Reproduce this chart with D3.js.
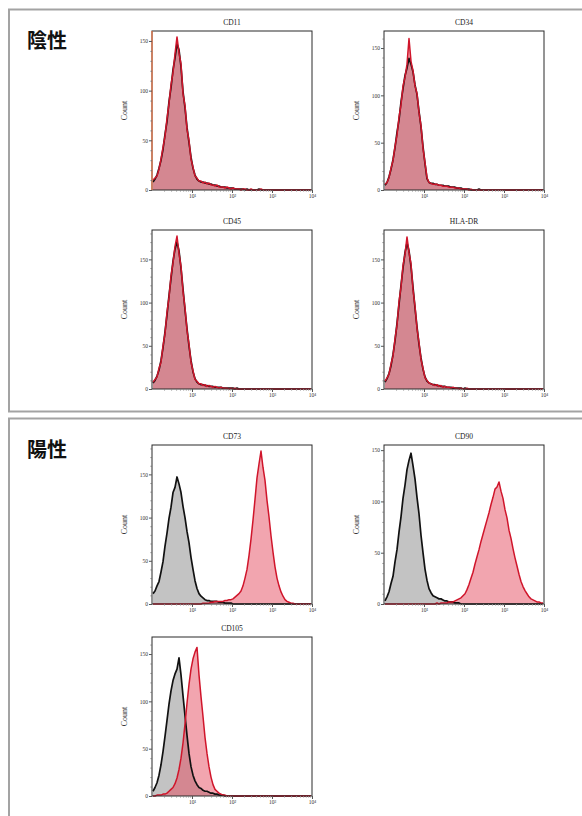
<!DOCTYPE html>
<html><head><meta charset="utf-8">
<script src="https://cdn.jsdelivr.net/npm/d3@7"></script>
<style>body{margin:0;background:#fff}svg{display:block}</style>
</head><body><svg id="c" width="582" height="816"></svg>
<script>
// ---------------- data ----------------
const panelNames = ["CD11","CD34","CD45","HLA-DR","CD73","CD90","CD105"];
const sectionLabels = ["陰性","陽性"];
const yMax = [160,168,184,184,184,155,168];
const yTickValues = [0,50,100,150];
const xTickValues = [10,100,1000,10000];
const xTickLabels = ["10¹","10²","10³","10⁴"];
const binWidthDecades = 0.05; // histogram channels, 80 per 4 decades

const cd11Control = [8,11,15,22,30,41,56,69,89,103,121,133,147,141,124,99,83,63,48,33,22,15,11,9,8,8,7,7,6,6,5,5,4,4,3,3,3,2,2,2,2,1,1,1,1,1,0,1,0,0,0,0,0,1,0,0,0,0,0,0,0,0,0,0,0,0,0,0,0,0,0,0,0,0,0,0,0,0,0,0];
const cd11Stained = [10,12,14,21,31,43,54,72,87,106,118,137,154,138,127,97,85,61,50,31,23,14,12,9,9,7,8,6,7,5,5,4,5,3,3,3,2,3,2,1,2,1,1,1,0,1,1,0,0,1,0,0,0,0,1,0,0,0,0,0,0,0,0,0,0,0,0,0,0,0,0,0,0,0,0,0,0,0,0,0];
const cd34Control = [5,8,14,22,32,45,61,74,93,107,121,129,139,133,125,111,101,83,67,46,28,12,8,7,7,6,6,5,5,5,4,4,4,3,3,3,2,2,2,1,1,1,1,0,0,0,0,1,0,0,0,0,0,0,0,0,0,0,0,0,0,0,0,0,0,0,0,0,0,0,0,0,0,0,0,0,0,0,0,0];
const cd34Stained = [6,8,13,23,31,46,58,77,90,110,119,133,160,136,126,110,102,82,68,44,29,13,8,7,6,6,6,5,5,4,4,4,3,3,3,2,2,2,1,1,1,1,0,1,0,0,0,0,0,0,0,0,0,0,0,0,0,0,0,0,0,0,0,0,0,0,0,0,0,0,0,0,0,0,0,0,0,0,0,0];
const cd45Control = [7,10,15,22,33,48,66,86,108,128,148,162,170,160,140,116,92,70,50,33,20,12,8,6,5,5,4,4,3,3,3,2,2,2,2,1,1,1,1,1,1,0,1,0,0,0,0,0,0,0,0,0,0,0,0,0,0,0,0,0,0,0,0,0,0,0,0,0,0,0,0,0,0,0,0,0,0,0,0,0];
const cd45Stained = [8,11,14,24,31,50,64,89,106,131,146,165,177,157,142,113,94,68,52,31,21,11,9,6,6,4,5,3,4,3,2,3,2,1,2,1,1,1,0,1,0,1,0,0,0,0,0,0,0,0,0,0,0,0,0,0,0,0,0,0,0,0,0,0,0,0,0,0,0,0,0,0,0,0,0,0,0,0,0,0];
const hladrControl = [8,12,18,27,40,56,76,98,120,140,158,169,160,142,118,94,72,52,36,23,14,9,7,6,5,5,4,4,3,3,3,2,2,2,1,1,1,1,1,0,1,0,0,0,0,0,0,0,0,0,0,0,0,0,0,0,0,0,0,0,0,0,0,0,0,0,0,0,0,0,0,0,0,0,0,0,0,0,0,0];
const hladrStained = [9,13,17,29,38,58,74,101,118,143,156,176,158,145,115,96,70,54,34,24,13,10,7,6,5,4,5,3,4,2,3,2,2,1,2,1,1,0,1,0,0,1,0,0,0,0,0,0,0,0,0,0,0,0,0,0,0,0,0,0,0,0,0,0,0,0,0,0,0,0,0,0,0,0,0,0,0,0,0,0];
const cd73Control = [12,15,21,26,37,49,67,82,99,112,129,135,147,139,129,113,100,84,71,54,40,27,18,12,9,7,5,4,4,3,3,3,3,2,2,2,1,1,1,1,0,0,0,0,0,0,0,0,0,0,0,0,0,0,0,0,0,0,0,0,0,0,0,0,0,0,0,0,0,0,0,0,0,0,0,0,0,0,0,0];
const cd73Stained = [0,0,0,0,0,0,0,0,0,0,0,0,0,0,0,0,0,0,0,0,0,0,0,0,0,1,1,1,1,2,2,3,3,3,3,3,4,4,5,5,6,8,10,12,15,21,30,40,56,75,97,121,146,162,177,158,143,120,101,79,60,43,30,21,14,9,5,3,2,1,1,0,0,0,0,0,0,0,0,0];
const cd90Control = [3,7,12,20,27,41,53,70,85,103,116,131,140,147,135,122,104,88,67,50,34,23,15,11,8,7,6,5,5,4,3,3,2,2,2,1,1,1,0,0,0,0,0,0,0,0,0,0,0,0,0,0,0,0,0,0,0,0,0,0,0,0,0,0,0,0,0,0,0,0,0,0,0,0,0,0,0,0,0,0];
const cd90Stained = [0,0,0,0,0,0,0,0,0,0,0,0,0,0,0,0,0,0,0,0,0,0,0,0,0,0,1,0,1,1,1,1,2,2,2,3,4,5,6,8,10,14,19,25,31,39,46,53,61,68,75,82,89,97,104,112,114,119,110,103,92,84,72,64,54,45,37,29,22,17,13,10,7,5,4,3,2,2,1,1];
const cd105Control = [5,9,14,22,33,47,63,80,97,111,122,129,134,146,128,106,85,64,45,31,22,16,12,9,8,6,5,5,4,3,3,2,2,1,1,1,0,0,0,0,0,0,0,0,0,0,0,0,0,0,0,0,0,0,0,0,0,0,0,0,0,0,0,0,0,0,0,0,0,0,0,0,0,0,0,0,0,0,0,0];
const cd105Stained = [0,0,1,1,1,2,2,3,5,7,9,13,19,28,40,56,76,98,118,134,145,152,157,128,105,84,62,45,31,20,12,7,5,3,2,1,1,0,0,0,0,0,0,0,0,0,0,0,0,0,0,0,0,0,0,0,0,0,0,0,0,0,0,0,0,0,0,0,0,0,0,0,0,0,0,0,0,0,0,0];

const controlSeries = [cd11Control,cd34Control,cd45Control,hladrControl,cd73Control,cd90Control,cd105Control];
const stainedSeries = [cd11Stained,cd34Stained,cd45Stained,hladrStained,cd73Stained,cd90Stained,cd105Stained];

// ---------------- layout ----------------
const panelLeft = [152,384,152,384,152,384,152];
const panelTop  = [31,31,230,230,445,445,637];
const panelW = 160, panelH = 159;

const svg = d3.select("#c");

svg.append("path").attr("d","M600,9.5H9V411.5H600")
  .attr("fill","none").attr("stroke","#a3a3a3").attr("stroke-width",2);
svg.append("path").attr("d","M600,418.5H9V830")
  .attr("fill","none").attr("stroke","#a3a3a3").attr("stroke-width",2);

const secY = [47.5, 456.5];
sectionLabels.forEach((t,i)=>{
  svg.append("text").attr("x",27).attr("y",secY[i]).text(t)
    .attr("font-family","'Noto Sans CJK JP','Noto Sans CJK SC',sans-serif")
    .attr("font-weight","bold").attr("font-size",20).attr("fill","#111");
});

const serif = "'Liberation Serif','DejaVu Serif',serif";

panelNames.forEach((name,p)=>{
  const L = panelLeft[p], T = panelTop[p], B = T+panelH, R = L+panelW;
  const x = d3.scaleLog().domain([1,1e4]).range([L,R]);
  const y = d3.scaleLinear().domain([0,yMax[p]]).range([B,T]);
  const g = svg.append("g");

  const toPts = arr => arr.map((v,i)=>({x:Math.pow(10,(i+0.5)*binWidthDecades), c:v}));
  const ctrl = toPts(controlSeries[p]);
  const stn = toPts(stainedSeries[p]);

  const area = d3.area().x(d=>x(d.x)).y0(y(0)).y1(d=>y(d.c));
  const line = d3.line().x(d=>x(d.x)).y(d=>y(d.c));

  g.append("path").datum(ctrl).attr("d",area).attr("fill","rgba(135,135,135,0.5)");
  g.append("path").datum(stn).attr("d",area).attr("fill","rgba(230,76,96,0.5)");
  g.append("path").datum(ctrl).attr("d",line).attr("fill","none")
    .attr("stroke","#111").attr("stroke-width",1.7).attr("stroke-linejoin","round");
  g.append("path").datum(stn).attr("d",line).attr("fill","none")
    .attr("stroke","#d0152b").attr("stroke-width",1.5).attr("stroke-linejoin","round");

  g.append("rect").attr("x",L).attr("y",T).attr("width",panelW).attr("height",panelH)
    .attr("fill","none").attr("stroke","#2a2a2a").attr("stroke-width",1);
  if (name==="CD11") {
    g.append("line").attr("x1",L).attr("x2",L).attr("y1",T).attr("y2",B)
      .attr("stroke","#e8774a").attr("stroke-width",1.3);
  }

  const ya = g.append("g").attr("transform",`translate(${L},0)`)
    .call(d3.axisLeft(y).tickValues(yTickValues).tickSize(3).tickPadding(1).tickFormat(d3.format("d")));
  ya.select(".domain").remove();
  ya.selectAll("text").attr("font-family",serif).attr("font-size",5.5).attr("fill","#333");
  ya.selectAll("line").attr("stroke","#555");
  const ym = g.append("g").attr("transform",`translate(${L},0)`)
    .call(d3.axisLeft(y).tickValues(d3.range(10,yMax[p],10).filter(v=>v%50)).tickSize(1.5).tickFormat(""));
  ym.select(".domain").remove(); ym.selectAll("line").attr("stroke","#777");

  const xa = g.append("g").attr("transform",`translate(0,${B})`)
    .call(d3.axisBottom(x).tickValues(xTickValues).tickSize(3).tickPadding(1)
      .tickFormat((d,i)=>xTickLabels[i]));
  xa.select(".domain").remove();
  xa.selectAll("text").attr("font-family",serif).attr("font-size",5.5).attr("fill","#333");
  xa.selectAll("line").attr("stroke","#555");
  const minorX = [];
  [1,10,100,1000].forEach(b=>{ for(let k=2;k<10;k++) minorX.push(b*k); });
  const xm = g.append("g").attr("transform",`translate(0,${B})`)
    .call(d3.axisBottom(x).tickValues(minorX).tickSize(1.5).tickFormat(""));
  xm.select(".domain").remove(); xm.selectAll("line").attr("stroke","#888");

  g.append("text").attr("x",(L+R)/2).attr("y",T-6).attr("text-anchor","middle")
    .attr("font-family",serif).attr("font-size",7.5).attr("fill","#222").text(name);
  g.append("text").attr("transform",`translate(${L-25},${(T+B)/2}) rotate(-90)`)
    .attr("text-anchor","middle").attr("font-family",serif).attr("font-size",8)
    .attr("fill","#333").text("Count");
});
</script>
</body></html>
